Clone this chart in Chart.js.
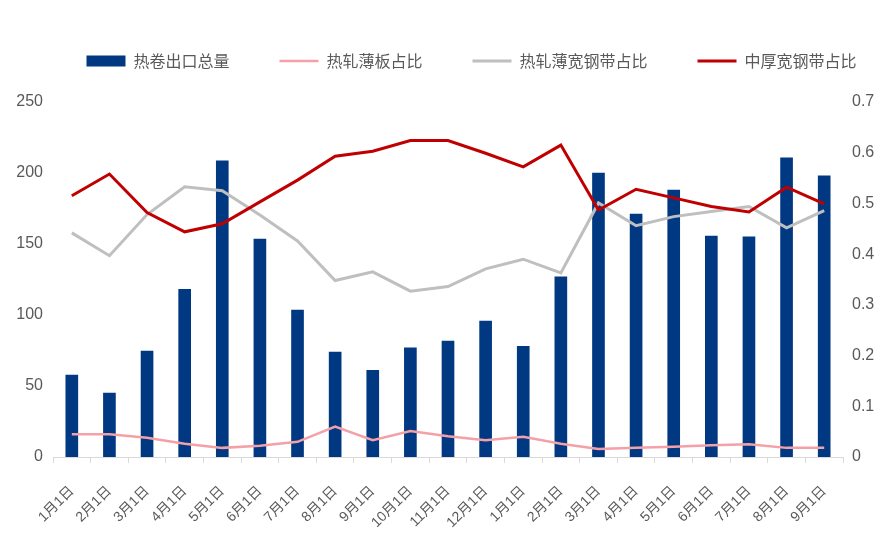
<!DOCTYPE html>
<html>
<head>
<meta charset="utf-8">
<script src="https://cdn.jsdelivr.net/npm/chart.js@4"></script>
<style>
  body { margin: 0; background: #fff; }
</style>
</head>
<body>
<canvas id="graph" width="883" height="539"></canvas>
<script>
// categories (x axis)
var mois = ['1月1日', '2月1日', '3月1日', '4月1日', '5月1日', '6月1日', '7月1日', '8月1日', '9月1日', '10月1日', '11月1日', '12月1日',
            '1月1日', '2月1日', '3月1日', '4月1日', '5月1日', '6月1日', '7月1日', '8月1日', '9月1日'];

// 热卷出口总量 (left axis)
var exportTotal = [57.7, 45, 74.6, 118, 208.5, 153.5, 103.5, 73.9, 61, 76.8, 81.7, 95.8,
                   78, 126.8, 200, 171, 188, 155.6, 155, 210.6, 198];

// shares (right axis)
var bobanShare = [0.045, 0.045, 0.038, 0.026, 0.018, 0.022, 0.030, 0.060, 0.033, 0.051, 0.041, 0.033,
                  0.040, 0.026, 0.016, 0.018, 0.020, 0.023, 0.025, 0.018, 0.018];
var bokuanShare = [0.442, 0.397, 0.478, 0.533, 0.525, 0.477, 0.426, 0.348, 0.365, 0.327, 0.336, 0.371,
                   0.390, 0.363, 0.501, 0.456, 0.474, 0.484, 0.494, 0.452, 0.486];
var zhonghouShare = [0.515, 0.558, 0.482, 0.444, 0.460, 0.503, 0.546, 0.593, 0.603, 0.624, 0.624, 0.599,
                     0.572, 0.615, 0.487, 0.528, 0.511, 0.494, 0.483, 0.532, 0.499];

var tickColor = '#595959';

// move the legend where the original one sits
var legendShift = {
  id: 'legendShift',
  afterLayout: function(chart) {
    var lg = chart.legend;
    lg.left += 30; lg.right += 30;
    lg.top -= 23; lg.bottom -= 23;
  }
};

var config = {
  type: 'bar',
  data: {
    labels: mois,
    datasets: [{
      label: '热卷出口总量',
      data: exportTotal,
      backgroundColor: '#003882',
      borderWidth: 0,
      barThickness: 12,
      pointStyle: 'rect',
      yAxisID: 'y',
      order: 4
    }, {
      type: 'line',
      label: '热轧薄板占比',
      data: bobanShare,
      borderColor: '#F4A0A8',
      backgroundColor: '#F4A0A8',
      borderWidth: 2.5,
      pointRadius: 0,
      pointStyle: 'line',
      yAxisID: 'y2',
      order: 3
    }, {
      type: 'line',
      label: '热轧薄宽钢带占比',
      data: bokuanShare,
      borderColor: '#BFBFBF',
      backgroundColor: '#BFBFBF',
      borderWidth: 3,
      pointRadius: 0,
      pointStyle: 'line',
      yAxisID: 'y2',
      order: 2
    }, {
      type: 'line',
      label: '中厚宽钢带占比',
      data: zhonghouShare,
      borderColor: '#C00000',
      backgroundColor: '#C00000',
      borderWidth: 3,
      pointRadius: 0,
      pointStyle: 'line',
      yAxisID: 'y2',
      order: 1
    }]
  },
  options: {
    responsive: false,
    animation: false,
    layout: { padding: { top: 26, left: 0, right: 0, bottom: 0 } },
    plugins: {
      tooltip: { enabled: false },
      legend: {
        position: 'top',
        labels: {
          usePointStyle: true,
          pointStyleWidth: 39,
          boxHeight: 11,
          padding: 50,
          color: tickColor,
          font: { family: "'Noto Sans CJK SC'", size: 16 },
          sort: function(a, b) { return a.datasetIndex - b.datasetIndex; }
        }
      }
    },
    scales: {
      x: {
        offset: true,
        grid: { display: true, drawOnChartArea: false, drawTicks: true, tickLength: 6, color: '#D9D9D9' },
        border: { display: true, color: '#D9D9D9' },
        ticks: {
          minRotation: 45,
          maxRotation: 45,
          autoSkip: false,
          padding: 20,
          color: tickColor,
          font: { family: "'Liberation Sans', 'Noto Sans CJK SC'", size: 14 }
        },
        afterFit: function(s) { s.height = 82; }
      },
      y: {
        position: 'left',
        min: 0,
        max: 250,
        grid: { display: false, drawTicks: false },
        border: { display: false },
        ticks: {
          stepSize: 50,
          padding: 10,
          color: tickColor,
          font: { family: "'Liberation Sans'", size: 16 }
        },
        afterFit: function(s) { s.width = 53; }
      },
      y2: {
        position: 'right',
        min: 0,
        max: 0.7,
        grid: { display: false, drawTicks: false },
        border: { display: false },
        ticks: {
          stepSize: 0.1,
          padding: 9,
          color: tickColor,
          font: { family: "'Liberation Sans'", size: 16 }
        },
        afterFit: function(s) { s.width = 40; }
      }
    }
  },
  plugins: [legendShift]
};

var graph = new Chart('graph', config);
</script>
</body>
</html>
